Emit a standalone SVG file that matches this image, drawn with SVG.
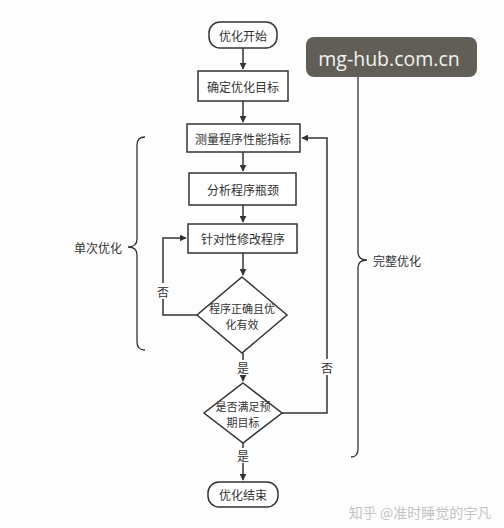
<svg xmlns="http://www.w3.org/2000/svg" width="504" height="528" viewBox="0 0 504 528">
<defs>
<marker id="ah" viewBox="0 0 10 10" refX="9" refY="5" markerWidth="7" markerHeight="7" orient="auto" markerUnits="userSpaceOnUse">
<path d="M0,0 L10,5 L0,10 z" fill="#333"/>
</marker>
<style>
.box{fill:#fff;stroke:#333;stroke-width:1.5}
.t{font-family:"Noto Sans CJK SC","Liberation Sans",sans-serif;font-size:12px;fill:#333;text-anchor:middle;dominant-baseline:central}
.d{font-size:11px}
.ln{fill:none;stroke:#333;stroke-width:1.5}
.br{fill:none;stroke:#333;stroke-width:1.3}
</style>
</defs>
<rect width="504" height="528" fill="#fdfdfd"/>
<g id="connectors">
<path class="ln" d="M243,48 V69" marker-end="url(#ah)"/>
<path class="ln" d="M243,101 V122" marker-end="url(#ah)"/>
<path class="ln" d="M243,152 V171" marker-end="url(#ah)"/>
<path class="ln" d="M243,205 V222" marker-end="url(#ah)"/>
<path class="ln" d="M243,253 V275" marker-end="url(#ah)"/>
<path class="ln" d="M197,315 H163 V238 H186" marker-end="url(#ah)"/>
<path class="ln" d="M243,353 V381" marker-end="url(#ah)"/>
<path class="ln" d="M282,413 H327 V138 H302" marker-end="url(#ah)"/>
<path class="ln" d="M243,443 V480" marker-end="url(#ah)"/>
<rect x="156" y="283" width="14" height="16" fill="#fdfdfd"/>
<text class="t" x="163" y="291">否</text>
<rect x="320" y="359" width="14" height="16" fill="#fdfdfd"/>
<text class="t" x="327" y="367">否</text>
<rect x="235" y="360" width="16" height="15" fill="#fdfdfd"/>
<text class="t" x="243" y="367">是</text>
<rect x="235" y="448" width="16" height="15" fill="#fdfdfd"/>
<text class="t" x="243" y="455">是</text>
</g>
<g id="start">
<rect class="box" x="209" y="22" width="68" height="26" rx="11"/>
<text class="t" x="243" y="35">优化开始</text>
</g>
<g id="goal">
<rect class="box" x="198" y="71" width="90" height="30"/>
<text class="t" x="243" y="86">确定优化目标</text>
</g>
<g id="measure">
<rect class="box" x="187" y="124" width="113" height="28"/>
<text class="t" x="243" y="138">测量程序性能指标</text>
</g>
<g id="analyze">
<rect class="box" x="189" y="173" width="107" height="32"/>
<text class="t" x="243" y="189">分析程序瓶颈</text>
</g>
<g id="modify">
<rect class="box" x="188" y="224" width="109" height="29"/>
<text class="t" x="243" y="238">针对性修改程序</text>
</g>
<g id="check1">
<path class="box" d="M242,277 L287,315 L242,353 L197,315 Z"/>
<text class="t d" x="242" y="308">程序正确且优</text>
<text class="t d" x="242" y="324">化有效</text>
</g>
<g id="check2">
<path class="box" d="M243,383 L282,413 L243,443 L204,413 Z"/>
<text class="t d" x="243" y="406">是否满足预</text>
<text class="t d" x="243" y="422">期目标</text>
</g>
<g id="end">
<rect class="box" x="208" y="482" width="70" height="25" rx="11"/>
<text class="t" x="243" y="494.5">优化结束</text>
</g>
<g id="single-brace">
<path class="br" d="M145,137 Q137,137 137,145 V239 Q137,247 128,247 Q137,247 137,255 V342 Q137,350 145,350"/>
<text class="t" x="98" y="247">单次优化</text>
</g>
<g id="full-brace">
<path class="br" d="M351,64 Q358,64 358,72 V252 Q358,260 367,260 Q358,260 358,268 V449 Q358,457 351,457"/>
<text class="t" x="397" y="260">完整优化</text>
</g>
<g id="watermark">
<rect x="306" y="37" width="171" height="40" rx="8" fill="#605e57"/>
<text x="389" y="58" font-family="'Open Sans','Liberation Sans',sans-serif" font-size="19.5" fill="#f2f2ee" text-anchor="middle" dominant-baseline="central">mg-hub.com.cn</text>
<text x="420" y="512" font-family="'Noto Sans CJK SC',sans-serif" font-size="14" fill="#c4c4c4" text-anchor="middle" dominant-baseline="central">知乎 @准时睡觉的宇凡</text>
</g>
</svg>
